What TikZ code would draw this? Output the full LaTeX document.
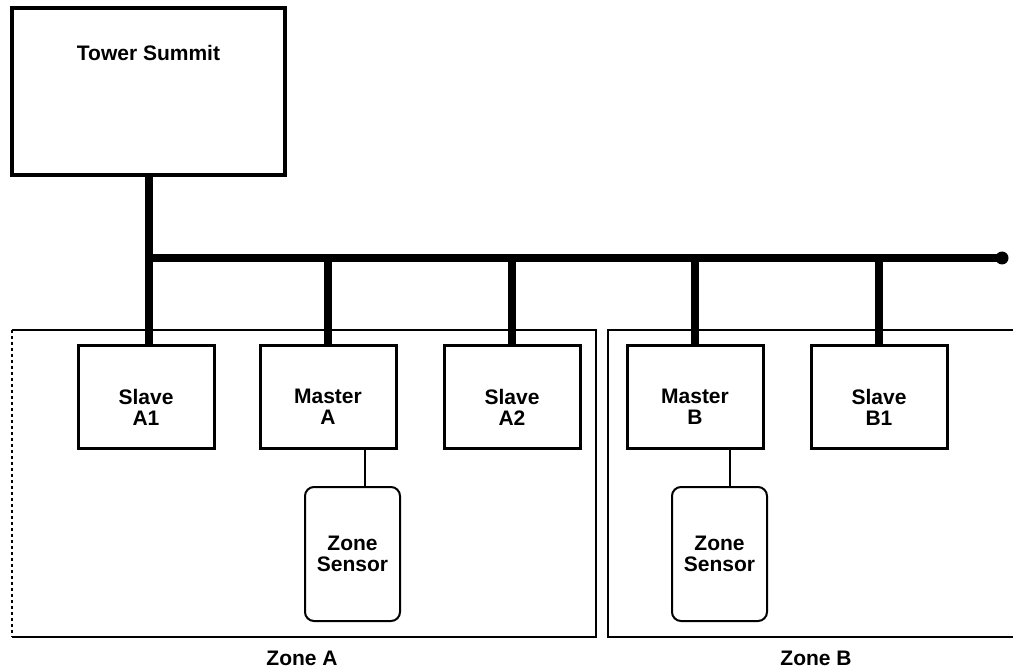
\documentclass[tikz,border=0pt]{standalone}
\usepackage{fontspec}
\setmainfont{Liberation Sans}
\begin{document}
\begin{tikzpicture}[x=1pt,y=-1pt,
  txt/.style={font=\fontsize{21}{21}\selectfont\bfseries,align=center},
  unitbox/.style={draw,line width=3pt,minimum width=136pt,minimum height=102pt,inner sep=0pt},
  sensorbox/.style={draw,line width=2pt,rounded corners=9pt,minimum width=95pt,minimum height=134pt,inner sep=0pt,txt},
  bus/.style={line width=8pt},
  zoneline/.style={line width=2.2pt},
  thin link/.style={line width=1.6pt}]
\useasboundingbox (0,0) rectangle (1013,671);
\fill[white] (0,0) rectangle (1013,671);

% Tower
\node[draw,line width=3.5pt,minimum width=273pt,minimum height=167pt,inner sep=0pt,
  label={[txt,yshift=39pt]center:Tower Summit}] (tower) at (148.5,91.5) {};

% zones
\coordinate (zAtl) at (12,330);
\coordinate (zAtr) at (596,330);
\coordinate (zAbr) at (596,637);
\coordinate (zAbl) at (12,637);
\draw[zoneline] (zAtl) -- (zAtr) -- (zAbr) -- (zAbl);
\draw[line width=2.6pt,dash pattern=on 2.6pt off 3.4pt] (zAtl) -- (zAbl);
\coordinate (zBtl) at (608,330);
\coordinate (zBtr) at (1015,330);
\coordinate (zBbl) at (608,637);
\coordinate (zBbr) at (1015,637);
\draw[zoneline] (zBtr) -- (zBtl) -- (zBbl) -- (zBbr);
\node[txt] (zAlabel) at (302,658) {Zone A};
\node[txt] (zBlabel) at (816,658) {Zone B};

% units
\node[unitbox,label={[txt,yshift=-10pt]center:Slave\\A1}] (sa1) at (146,397) {};
\node[unitbox,label={[txt,yshift=-10pt]center:Master\\A}] (ma) at (328,397) {};
\node[unitbox,label={[txt,yshift=-10pt]center:Slave\\A2}] (sa2) at (512,397) {};
\node[unitbox,label={[txt,yshift=-10pt]center:Master\\B}] (mb) at (695,397) {};
\node[unitbox,label={[txt,yshift=-10pt]center:Slave\\B1}] (sb1) at (879,397) {};

% sensors
\node[sensorbox] (zsA) at (352.5,554) {Zone\\Sensor};
\node[sensorbox] (zsB) at (719.5,554) {Zone\\Sensor};

% bus
\coordinate (busL) at (148,258);
\coordinate (busR) at (1002,258);
\draw[bus] (tower.south) -- (tower.south |- sa1.north);
\draw[bus] (busL) -- (busR);
\fill (busR) circle (6.5pt);
\draw[bus] (ma.north |- busL) -- (ma.north);
\draw[bus] (sa2.north |- busL) -- (sa2.north);
\draw[bus] (mb.north |- busL) -- (mb.north);
\draw[bus] (sb1.north |- busL) -- (sb1.north);

% sensor links
\coordinate (ta) at ([xshift=37pt]ma.south);
\coordinate (tb) at ([xshift=35pt]mb.south);
\draw[thin link] (ta) -- (ta |- zsA.north);
\draw[thin link] (tb) -- (tb |- zsB.north);
\end{tikzpicture}
\end{document}
